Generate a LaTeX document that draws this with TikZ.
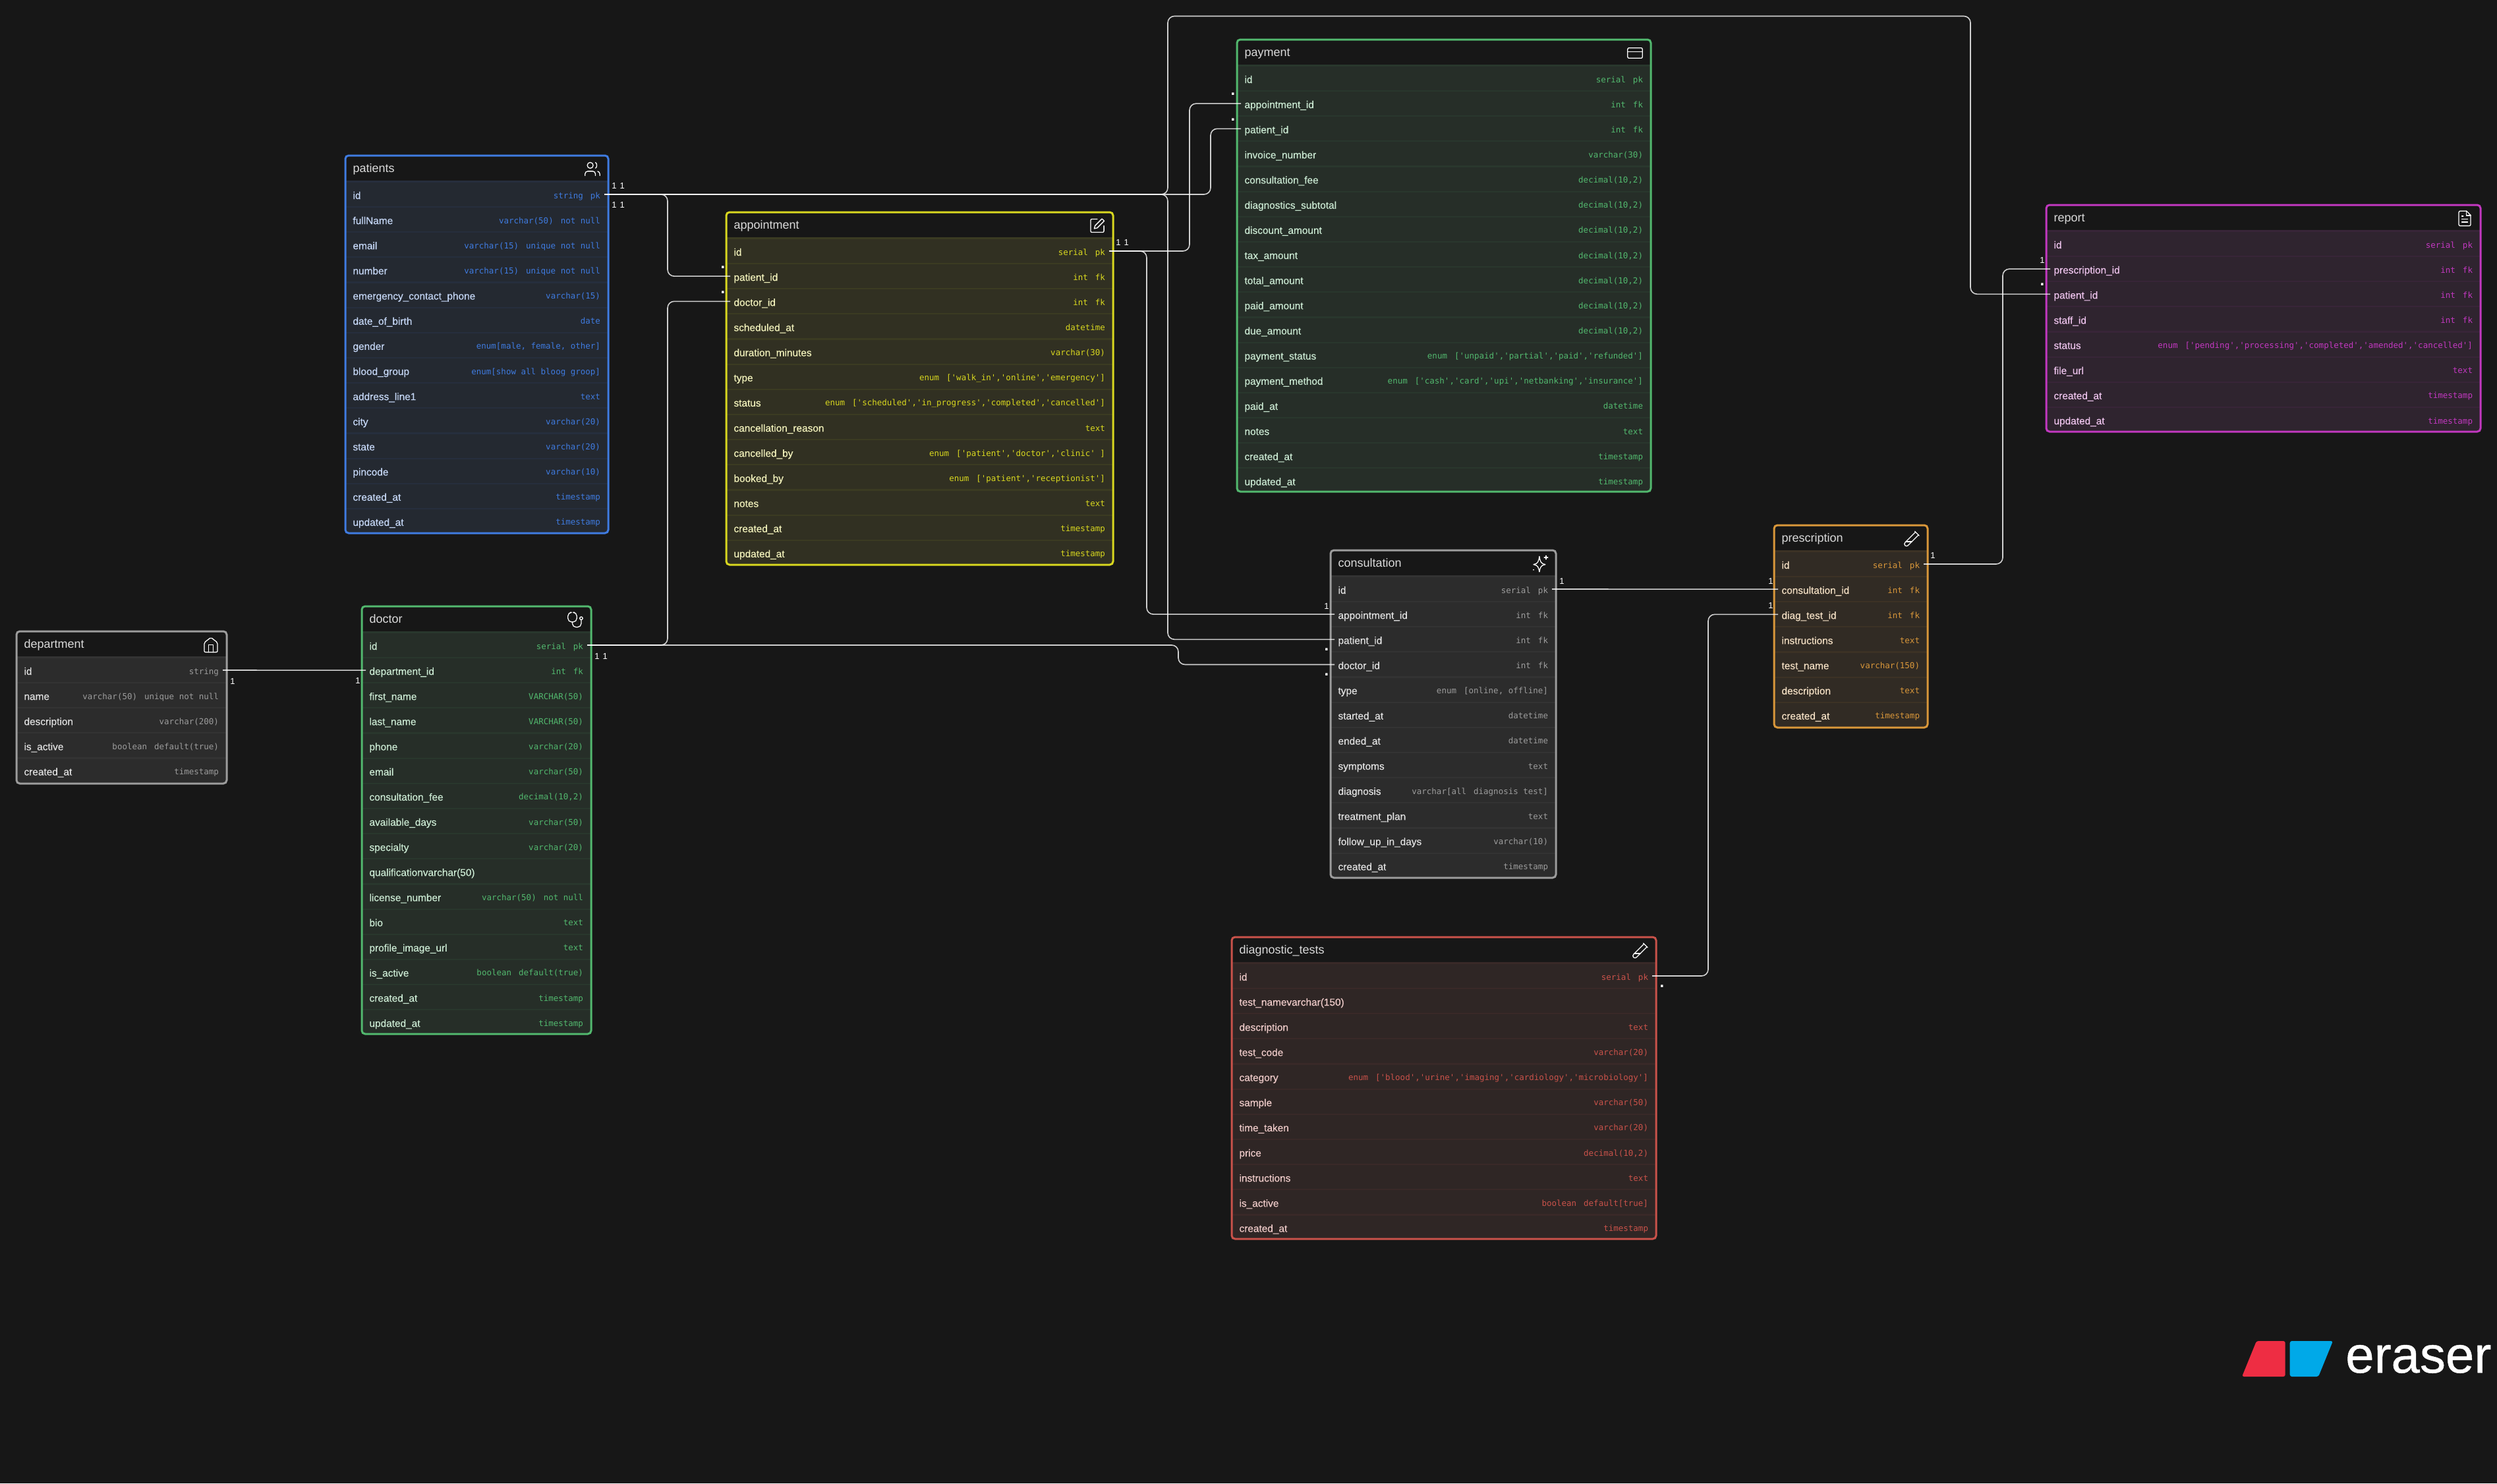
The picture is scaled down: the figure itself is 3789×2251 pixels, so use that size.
\documentclass[tikz,border=0pt]{standalone}
\usepackage{fontspec}
\usepackage{xcolor}
\usepackage{tikz}
\usetikzlibrary{positioning,calc}
\setmainfont{Liberation Sans}
\setmonofont{DejaVu Sans Mono}
\newfontfamily\fieldfam[FakeBold=0.35]{Liberation Sans}
\newfontfamily\logofam[FakeBold=0.6]{Liberation Sans}
\definecolor{er-bg}{HTML}{171717}
\definecolor{er-row}{HTML}{222222}
\definecolor{er-title}{HTML}{DADADA}
\definecolor{er-blue}{HTML}{3F7BE0}
\definecolor{er-green}{HTML}{52B86E}
\definecolor{er-yellow}{HTML}{D8D71F}
\definecolor{er-grey}{HTML}{9C9C9C}
\definecolor{er-orange}{HTML}{D9973A}
\definecolor{er-red}{HTML}{C9524A}
\definecolor{er-purple}{HTML}{C238C0}
\definecolor{logo-red}{HTML}{EE2D43}
\definecolor{logo-blue}{HTML}{00A9E8}
\newcommand{\typegap}{\hspace{11pt}}
\newcommand{\fieldfont}{\fieldfam\fontsize{15.4}{18}\selectfont}
\newcommand{\typefont}{\ttfamily\fontsize{12.5}{15}\selectfont}
\newcommand{\titlefont}{\normalfont\fontsize{18}{20}\selectfont}
\catcode`\_=12
\tikzset{
    iconline/.style={draw=white, line width=1.3pt, line cap=round, line join=round},
    pics/users/.style={code={
        \draw[iconline, rounded corners=4pt] (4,9) -- (4,3) -- (-10,3) -- (-10,9);
        \draw[iconline] (-3,-5) circle (4);
        \draw[iconline] (4,-8.9) .. controls (6.5,-8) and (6.5,-2) .. (4,-1.1);
        \draw[iconline] (10,9) -- (10,7) .. controls (10,5) and (9,3.6) .. (7,3.1);
    }},
    pics/stethoscope/.style={code={
        \draw[iconline, rounded corners=5.5pt] (-7,-10) -- (-10,-10) -- (-10,3) -- (2,3) -- (2,-10) -- (-1,-10);
        \draw[iconline, rounded corners=5.5pt] (-4,3) -- (-4,10) -- (8,10) -- (8,0);
        \draw[iconline] (8,-2) circle (2);
    }},
    pics/penbox/.style={code={
        \draw[iconline, rounded corners=2pt] (0,-9) -- (-9,-9) -- (-9,9) -- (9,9) -- (9,0);
        \draw[iconline] (6.4,-9.4) -- (9.4,-6.4) -- (0,3) -- (-4,4) -- (-3,0) -- cycle;
    }},
    pics/card/.style={code={
        \draw[iconline, rounded corners=2pt] (-10,-7) rectangle (10,7);
        \draw[iconline] (-10,-2) -- (10,-2);
    }},
    pics/sparkle/.style={code={
        \draw[iconline] (-1,-10) .. controls (0,-3) and (1,0) .. (7,1) .. controls (1,2) and (0,5) .. (-1,11)
            .. controls (-2,5) and (-3,2) .. (-9,1) .. controls (-3,0) and (-2,-3) .. (-1,-10) -- cycle;
        \draw[iconline] (8,-11) -- (8,-6) (5.5,-8.5) -- (10.5,-8.5);
        \draw[iconline] (-9,8) -- (-9,8.4);
    }},
    pics/testtube/.style={code={
        \draw[iconline] (9,-5) -- (-5.2,9.2) .. controls (-6.3,10.3) and (-8,10.3) .. (-9.2,9.2)
            .. controls (-10.3,8) and (-10.3,6.3) .. (-9.2,5.2) -- (5,-9);
        \draw[iconline] (4,-10) -- (10,-4);
        \draw[iconline] (0,4) -- (-8,4);
    }},
    pics/filetext/.style={code={
        \draw[iconline, rounded corners=2pt] (2.5,-10) -- (-8,-10) -- (-8,10) -- (8,10) -- (8,-4.5);
        \draw[iconline] (2.5,-10) -- (8,-4.5);
        \draw[iconline] (2,-10) -- (2,-4) -- (8,-4);
        \draw[iconline] (-4,1) -- (4,1) (-4,5) -- (4,5) (-4,-3) -- (-2,-3);
    }},
    pics/house/.style={code={
        \draw[iconline, rounded corners=2pt] (-9,-3) -- (0,-10) -- (9,-3) -- (9,10) -- (-9,10) -- cycle;
        \draw[iconline] (-3,10) -- (-3,0) -- (3,0) -- (3,10);
    }}
}

\begin{document}
\begin{tikzpicture}[
    x=1pt, y=-1pt,
    palette/.code={\colorlet{tbl}{#1}},
    tablew/.code={\pgfmathsetmacro\rowtext{#1-23}},
    tablebox/.style={rectangle, anchor=north west, inner sep=0pt, outer sep=0pt, rounded corners=5pt, fill=tbl!14!er-row},
    tableframe/.style={draw=tbl, line width=3pt, rounded corners=5pt},
    tablehead/.style={rectangle, anchor=north, fill=er-bg, minimum height=38pt, inner xsep=11.5pt, inner ysep=0pt, outer sep=0pt, text width=\rowtext pt, align=left, font=\titlefont, text=er-title, text height=14.4pt, text depth=1pt},
    tablerow/.style={rectangle, fill=tbl!8!er-row, minimum height=36pt, inner xsep=11.5pt, inner ysep=0pt, outer sep=0pt, text width=\rowtext pt, align=left, font=\fieldfont, text=tbl!30!white, text height=16pt, text depth=2pt},
    typetext/.style={anchor=east, inner xsep=12pt, inner ysep=0pt, outer sep=0pt, font=\typefont, text=tbl, text height=15pt, text depth=3pt},
    field/.style={tablerow, label={[typetext]east:{#1}}},
    firstrow/.style={below=3pt of #1},
    nextrow/.style={below=2.15pt of #1},
    iconspot/.style={xshift=-24pt, yshift=-20.5pt},
    icon/.style={scale=1.12},
    link/.style={draw=white, opacity=0.8, line width=1.6pt, rounded corners=10pt},
    outport/.style={xshift=-6pt},
    inport/.style={xshift=6pt},
    cardlabel/.style={text=white, inner sep=0pt, font=\normalfont\fontsize{13}{13}\selectfont},
    carddot/.style={text=white, inner sep=0pt, font=\normalfont\bfseries\fontsize{24}{24}\selectfont}
]

\fill[er-bg] (0,0) rectangle (3789,2251);
\useasboundingbox (0,0) rectangle (3789,2251);

% Patients
\begin{scope}[palette=er-blue, tablew=399]
\node[tablebox, minimum width=399pt, minimum height=573pt] (patients) at (524,236) {};
\node[tablehead] (patients-head) at (patients.north) {patients};
\node[field={string\typegap pk}, firstrow=patients-head] (patients-id) {id};
\node[field={varchar(50)\typegap not null}, nextrow=patients-id] (patients-fullName) {fullName};
\node[field={varchar(15)\typegap unique not null}, nextrow=patients-fullName] (patients-email) {email};
\node[field={varchar(15)\typegap unique not null}, nextrow=patients-email] (patients-number) {number};
\node[field={varchar(15)}, nextrow=patients-number] (patients-emergency) {emergency_contact_phone};
\node[field={date}, nextrow=patients-emergency] (patients-dob) {date_of_birth};
\node[field={enum[male, female, other]}, nextrow=patients-dob] (patients-gender) {gender};
\node[field={enum[show all bloog groop]}, nextrow=patients-gender] (patients-blood) {blood_group};
\node[field={text}, nextrow=patients-blood] (patients-address) {address_line1};
\node[field={varchar(20)}, nextrow=patients-address] (patients-city) {city};
\node[field={varchar(20)}, nextrow=patients-city] (patients-state) {state};
\node[field={varchar(10)}, nextrow=patients-state] (patients-pincode) {pincode};
\node[field={timestamp}, nextrow=patients-pincode] (patients-created) {created_at};
\node[field={timestamp}, nextrow=patients-created] (patients-updated) {updated_at};
\draw[tableframe] (patients.north west) rectangle (patients.south east);
\pic[icon] at ([iconspot]patients.north east) {users};
\end{scope}

% Department
\begin{scope}[palette=er-grey, tablew=319]
\node[tablebox, minimum width=319pt, minimum height=231pt] (department) at (25,958) {};
\node[tablehead] (department-head) at (department.north) {department};
\node[field={string}, firstrow=department-head] (department-id) {id};
\node[field={varchar(50)\typegap unique not null}, nextrow=department-id] (department-name) {name};
\node[field={varchar(200)}, nextrow=department-name] (department-description) {description};
\node[field={boolean\typegap default(true)}, nextrow=department-description] (department-active) {is_active};
\node[field={timestamp}, nextrow=department-active] (department-created) {created_at};
\draw[tableframe] (department.north west) rectangle (department.south east);
\pic[icon] at ([iconspot]department.north east) {house};
\end{scope}

% Doctor
\begin{scope}[palette=er-green, tablew=348]
\node[tablebox, minimum width=348pt, minimum height=649pt] (doctor) at (549,920) {};
\node[tablehead] (doctor-head) at (doctor.north) {doctor};
\node[field={serial\typegap pk}, firstrow=doctor-head] (doctor-id) {id};
\node[field={int\typegap fk}, nextrow=doctor-id] (doctor-department_id) {department_id};
\node[field={VARCHAR(50)}, nextrow=doctor-department_id] (doctor-first) {first_name};
\node[field={VARCHAR(50)}, nextrow=doctor-first] (doctor-last) {last_name};
\node[field={varchar(20)}, nextrow=doctor-last] (doctor-phone) {phone};
\node[field={varchar(50)}, nextrow=doctor-phone] (doctor-email) {email};
\node[field={decimal(10,2)}, nextrow=doctor-email] (doctor-fee) {consultation_fee};
\node[field={varchar(50)}, nextrow=doctor-fee] (doctor-days) {available_days};
\node[field={varchar(20)}, nextrow=doctor-days] (doctor-specialty) {specialty};
\node[tablerow, nextrow=doctor-specialty] (doctor-qualification) {qualificationvarchar(50)};
\node[field={varchar(50)\typegap not null}, nextrow=doctor-qualification] (doctor-license) {license_number};
\node[field={text}, nextrow=doctor-license] (doctor-bio) {bio};
\node[field={text}, nextrow=doctor-bio] (doctor-image) {profile_image_url};
\node[field={boolean\typegap default(true)}, nextrow=doctor-image] (doctor-active) {is_active};
\node[field={timestamp}, nextrow=doctor-active] (doctor-created) {created_at};
\node[field={timestamp}, nextrow=doctor-created] (doctor-updated) {updated_at};
\draw[tableframe] (doctor.north west) rectangle (doctor.south east);
\pic[icon] at ([iconspot]doctor.north east) {stethoscope};
\end{scope}

% Appointment
\begin{scope}[palette=er-yellow, tablew=587]
\node[tablebox, minimum width=587pt, minimum height=535pt] (appointment) at (1102,322) {};
\node[tablehead] (appointment-head) at (appointment.north) {appointment};
\node[field={serial\typegap pk}, firstrow=appointment-head] (appointment-id) {id};
\node[field={int\typegap fk}, nextrow=appointment-id] (appointment-patient_id) {patient_id};
\node[field={int\typegap fk}, nextrow=appointment-patient_id] (appointment-doctor_id) {doctor_id};
\node[field={datetime}, nextrow=appointment-doctor_id] (appointment-scheduled) {scheduled_at};
\node[field={varchar(30)}, nextrow=appointment-scheduled] (appointment-duration) {duration_minutes};
\node[field={enum\typegap ['walk_in','online','emergency']}, nextrow=appointment-duration] (appointment-type) {type};
\node[field={enum\typegap ['scheduled','in_progress','completed','cancelled']}, nextrow=appointment-type] (appointment-status) {status};
\node[field={text}, nextrow=appointment-status] (appointment-reason) {cancellation_reason};
\node[field={enum\typegap ['patient','doctor','clinic' ]}, nextrow=appointment-reason] (appointment-cancelled) {cancelled_by};
\node[field={enum\typegap ['patient','receptionist']}, nextrow=appointment-cancelled] (appointment-booked) {booked_by};
\node[field={text}, nextrow=appointment-booked] (appointment-notes) {notes};
\node[field={timestamp}, nextrow=appointment-notes] (appointment-created) {created_at};
\node[field={timestamp}, nextrow=appointment-created] (appointment-updated) {updated_at};
\draw[tableframe] (appointment.north west) rectangle (appointment.south east);
\pic[icon] at ([iconspot]appointment.north east) {penbox};
\end{scope}

% Payment
\begin{scope}[palette=er-green, tablew=628]
\node[tablebox, minimum width=628pt, minimum height=686pt] (payment) at (1877,60) {};
\node[tablehead] (payment-head) at (payment.north) {payment};
\node[field={serial\typegap pk}, firstrow=payment-head] (payment-id) {id};
\node[field={int\typegap fk}, nextrow=payment-id] (payment-appointment_id) {appointment_id};
\node[field={int\typegap fk}, nextrow=payment-appointment_id] (payment-patient_id) {patient_id};
\node[field={varchar(30)}, nextrow=payment-patient_id] (payment-invoice) {invoice_number};
\node[field={decimal(10,2)}, nextrow=payment-invoice] (payment-fee) {consultation_fee};
\node[field={decimal(10,2)}, nextrow=payment-fee] (payment-diagnostics) {diagnostics_subtotal};
\node[field={decimal(10,2)}, nextrow=payment-diagnostics] (payment-discount) {discount_amount};
\node[field={decimal(10,2)}, nextrow=payment-discount] (payment-tax) {tax_amount};
\node[field={decimal(10,2)}, nextrow=payment-tax] (payment-total) {total_amount};
\node[field={decimal(10,2)}, nextrow=payment-total] (payment-paid) {paid_amount};
\node[field={decimal(10,2)}, nextrow=payment-paid] (payment-due) {due_amount};
\node[field={enum\typegap ['unpaid','partial','paid','refunded']}, nextrow=payment-due] (payment-status) {payment_status};
\node[field={enum\typegap ['cash','card','upi','netbanking','insurance']}, nextrow=payment-status] (payment-method) {payment_method};
\node[field={datetime}, nextrow=payment-method] (payment-paidat) {paid_at};
\node[field={text}, nextrow=payment-paidat] (payment-notes) {notes};
\node[field={timestamp}, nextrow=payment-notes] (payment-created) {created_at};
\node[field={timestamp}, nextrow=payment-created] (payment-updated) {updated_at};
\draw[tableframe] (payment.north west) rectangle (payment.south east);
\pic[icon] at ([iconspot]payment.north east) {card};
\end{scope}

% Consultation
\begin{scope}[palette=er-grey, tablew=342]
\node[tablebox, minimum width=342pt, minimum height=497pt] (consultation) at (2019,835) {};
\node[tablehead] (consultation-head) at (consultation.north) {consultation};
\node[field={serial\typegap pk}, firstrow=consultation-head] (consultation-id) {id};
\node[field={int\typegap fk}, nextrow=consultation-id] (consultation-appointment_id) {appointment_id};
\node[field={int\typegap fk}, nextrow=consultation-appointment_id] (consultation-patient_id) {patient_id};
\node[field={int\typegap fk}, nextrow=consultation-patient_id] (consultation-doctor_id) {doctor_id};
\node[field={enum\typegap [online, offline]}, nextrow=consultation-doctor_id] (consultation-type) {type};
\node[field={datetime}, nextrow=consultation-type] (consultation-started) {started_at};
\node[field={datetime}, nextrow=consultation-started] (consultation-ended) {ended_at};
\node[field={text}, nextrow=consultation-ended] (consultation-symptoms) {symptoms};
\node[field={varchar[all\typegap diagnosis test]}, nextrow=consultation-symptoms] (consultation-diagnosis) {diagnosis};
\node[field={text}, nextrow=consultation-diagnosis] (consultation-plan) {treatment_plan};
\node[field={varchar(10)}, nextrow=consultation-plan] (consultation-followup) {follow_up_in_days};
\node[field={timestamp}, nextrow=consultation-followup] (consultation-created) {created_at};
\draw[tableframe] (consultation.north west) rectangle (consultation.south east);
\pic[icon] at ([iconspot]consultation.north east) {sparkle};
\end{scope}

% Diagnostic tests
\begin{scope}[palette=er-red, tablew=644]
\node[tablebox, minimum width=644pt, minimum height=458pt] (diagnostic) at (1869,1422) {};
\node[tablehead] (diagnostic-head) at (diagnostic.north) {diagnostic_tests};
\node[field={serial\typegap pk}, firstrow=diagnostic-head] (diagnostic-id) {id};
\node[tablerow, nextrow=diagnostic-id] (diagnostic-name) {test_namevarchar(150)};
\node[field={text}, nextrow=diagnostic-name] (diagnostic-description) {description};
\node[field={varchar(20)}, nextrow=diagnostic-description] (diagnostic-code) {test_code};
\node[field={enum\typegap ['blood','urine','imaging','cardiology','microbiology']}, nextrow=diagnostic-code] (diagnostic-category) {category};
\node[field={varchar(50)}, nextrow=diagnostic-category] (diagnostic-sample) {sample};
\node[field={varchar(20)}, nextrow=diagnostic-sample] (diagnostic-time) {time_taken};
\node[field={decimal(10,2)}, nextrow=diagnostic-time] (diagnostic-price) {price};
\node[field={text}, nextrow=diagnostic-price] (diagnostic-instructions) {instructions};
\node[field={boolean\typegap default[true]}, nextrow=diagnostic-instructions] (diagnostic-active) {is_active};
\node[field={timestamp}, nextrow=diagnostic-active] (diagnostic-created) {created_at};
\draw[tableframe] (diagnostic.north west) rectangle (diagnostic.south east);
\pic[icon] at ([iconspot]diagnostic.north east) {testtube};
\end{scope}

% Prescription
\begin{scope}[palette=er-orange, tablew=233]
\node[tablebox, minimum width=233pt, minimum height=307pt] (prescription) at (2692,797) {};
\node[tablehead] (prescription-head) at (prescription.north) {prescription};
\node[field={serial\typegap pk}, firstrow=prescription-head] (prescription-id) {id};
\node[field={int\typegap fk}, nextrow=prescription-id] (prescription-consultation_id) {consultation_id};
\node[field={int\typegap fk}, nextrow=prescription-consultation_id] (prescription-diag_test_id) {diag_test_id};
\node[field={text}, nextrow=prescription-diag_test_id] (prescription-instructions) {instructions};
\node[field={varchar(150)}, nextrow=prescription-instructions] (prescription-name) {test_name};
\node[field={text}, nextrow=prescription-name] (prescription-description) {description};
\node[field={timestamp}, nextrow=prescription-description] (prescription-created) {created_at};
\draw[tableframe] (prescription.north west) rectangle (prescription.south east);
\pic[icon] at ([iconspot]prescription.north east) {testtube};
\end{scope}

% Report
\begin{scope}[palette=er-purple, tablew=659]
\node[tablebox, minimum width=659pt, minimum height=344pt] (report) at (3105,311) {};
\node[tablehead] (report-head) at (report.north) {report};
\node[field={serial\typegap pk}, firstrow=report-head] (report-id) {id};
\node[field={int\typegap fk}, nextrow=report-id] (report-prescription_id) {prescription_id};
\node[field={int\typegap fk}, nextrow=report-prescription_id] (report-patient_id) {patient_id};
\node[field={int\typegap fk}, nextrow=report-patient_id] (report-staff_id) {staff_id};
\node[field={enum\typegap ['pending','processing','completed','amended','cancelled']}, nextrow=report-staff_id] (report-status) {status};
\node[field={text}, nextrow=report-status] (report-file) {file_url};
\node[field={timestamp}, nextrow=report-file] (report-created) {created_at};
\node[field={timestamp}, nextrow=report-created] (report-updated) {updated_at};
\draw[tableframe] (report.north west) rectangle (report.south east);
\pic[icon] at ([iconspot]report.north east) {filetext};
\end{scope}

% Routing rails
\coordinate (rail-top) at (0,24.5);
\coordinate (rail-near) at (1013,0);
\coordinate (rail-consult) at (1740,0);
\coordinate (rail-patient) at (1772,0);
\coordinate (rail-doctor) at (1788,0);
\coordinate (rail-appt) at (1805,0);
\coordinate (rail-pay) at (1837,0);
\coordinate (rail-report) at (2990,0);
\coordinate (rail-diag) at (2592,0);
\coordinate (rail-presc) at (3039,0);

% Connectors
\draw[link] ([outport]patients-id.east) -| (rail-near |- appointment-patient_id.west) -- ([inport]appointment-patient_id.west);
\draw[link] ([outport]patients-id.east) -| (rail-pay |- payment-patient_id.west) -- ([inport]payment-patient_id.west);
\draw[link] ([outport]patients-id.east) -| (rail-patient |- rail-top) -| (rail-report |- report-patient_id.west) -- ([inport]report-patient_id.west);
\draw[link] ([outport]patients-id.east) -| (rail-patient |- consultation-patient_id.west) -- ([inport]consultation-patient_id.west);
\draw[link] ([outport]doctor-id.east) -| (rail-near |- appointment-doctor_id.west) -- ([inport]appointment-doctor_id.west);
\draw[link] ([outport]doctor-id.east) -| (rail-doctor |- consultation-doctor_id.west) -- ([inport]consultation-doctor_id.west);
\draw[link] ([outport]appointment-id.east) -| (rail-appt |- payment-appointment_id.west) -- ([inport]payment-appointment_id.west);
\draw[link] ([outport]appointment-id.east) -| (rail-consult |- consultation-appointment_id.west) -- ([inport]consultation-appointment_id.west);
\draw[link] ([outport]department-id.east) -- ([inport]doctor-department_id.west);
\draw[link] ([outport]consultation-id.east) -- ([inport]prescription-consultation_id.west);
\draw[link] ([outport]diagnostic-id.east) -| (rail-diag |- prescription-diag_test_id.west) -- ([inport]prescription-diag_test_id.west);
\draw[link] ([outport]prescription-id.east) -| (rail-presc |- report-prescription_id.west) -- ([inport]report-prescription_id.west);

% Cardinality marks
\node[cardlabel] (card-patients-a) at (938,282) {1\hspace{5pt}1};
\node[cardlabel] (card-patients-b) at (938,311) {1\hspace{5pt}1};
\node[cardlabel] (card-doctor) at (912,996) {1\hspace{5pt}1};
\node[cardlabel] (card-appointment) at (1703,368) {1\hspace{5pt}1};
\node[cardlabel] (card-department) at (353,1034) {1};
\node[cardlabel] (card-doctor-dept) at (543,1033) {1};
\node[cardlabel] (card-consult-out) at (2370,882) {1};
\node[cardlabel] (card-consult-appt) at (2013,920) {1};
\node[cardlabel] (card-presc-out) at (2933,843) {1};
\node[cardlabel] (card-presc-consult) at (2687,882) {1};
\node[cardlabel] (card-presc-diag) at (2687,919) {1};
\node[cardlabel] (card-report-presc) at (3099,395) {1};
\node[carddot] (dot-appt-patient) at (1097,406) {.};
\node[carddot] (dot-appt-doctor) at (1097,444) {.};
\node[carddot] (dot-pay-appt) at (1871,143) {.};
\node[carddot] (dot-pay-patient) at (1871,181.5) {.};
\node[carddot] (dot-consult-patient) at (2013,986) {.};
\node[carddot] (dot-consult-doctor) at (2013,1024) {.};
\node[carddot] (dot-diag) at (2522,1497) {.};
\node[carddot] (dot-report-patient) at (3099,432) {.};

% Logo
\fill[logo-red, rounded corners=3pt] (3424,2035) -- (3467.7,2035) -- (3467.7,2089) -- (3402,2089) -- cycle;
\fill[logo-blue, rounded corners=3pt] (3474.7,2035) -- (3540,2035) -- (3518,2089) -- (3474.7,2089) -- cycle;
\node[anchor=base west, inner sep=0pt, text=white, font=\logofam\fontsize{78}{80}\selectfont] (logo-text) at (3559,2083) {eraser};

\end{tikzpicture}
\end{document}
